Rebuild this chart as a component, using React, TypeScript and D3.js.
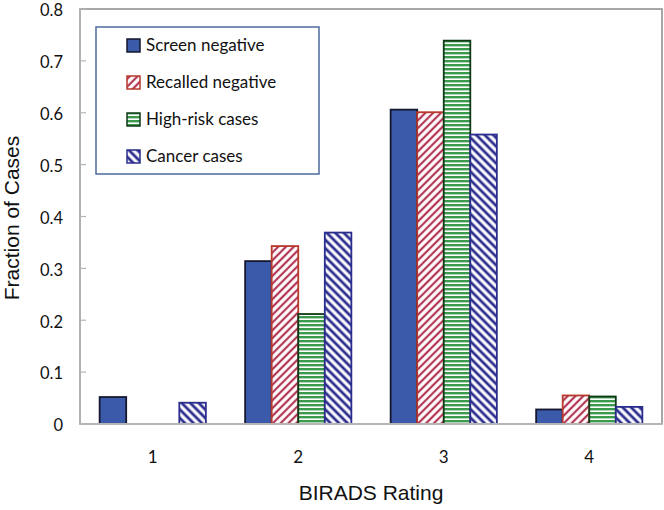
import * as d3 from "d3";

const categories = ["1", "2", "3", "4"];
const seriesNames = ["Screen negative", "Recalled negative", "High-risk cases", "Cancer cases"];
const screenNegative = [0.052, 0.314, 0.606, 0.028];
const recalledNegative = [0, 0.343, 0.601, 0.055];
const highRisk = [0, 0.212, 0.739, 0.053];
const cancerCases = [0.041, 0.369, 0.558, 0.033];
const yTicks = [0, 0.1, 0.2, 0.3, 0.4, 0.5, 0.6, 0.7, 0.8];

const seriesValues = [screenNegative, recalledNegative, highRisk, cancerCases];
const fills = ["#3b5aa9", "url(#hatchRed)", "url(#hatchGreen)", "url(#hatchBlue)"];
const strokes = ["#15172e", "#b8392b", "#0f3a17", "#2a2d8c"];

export default function App() {
    const width = 664;
    const height = 510;
    const marginLeft = 80;
    const marginRight = 2;
    const marginTop = 9;
    const plotBottom = 424;

    const x0 = d3.scaleBand(categories, [marginLeft, width - marginRight]);
    const bw = x0.bandwidth();
    const x1 = d3.scaleBand(seriesNames, [bw * 0.135, bw * 0.865]);
    const y = d3.scaleLinear([0, 0.8], [plotBottom, marginTop]);

    const font = "Lato, 'Open Sans', sans-serif";

    return (
        <svg width={width} height={height} style={{ position: "absolute", left: 0, top: 0, background: "#fff" }}>
            <defs>
                <pattern id="hatchRed" patternUnits="userSpaceOnUse" width="5.5" height="5.5" patternTransform="rotate(45)">
                    <rect width="5.5" height="5.5" fill="#fff" />
                    <line x1="2.75" y1="0" x2="2.75" y2="5.5" stroke="#b23452" strokeWidth="2.2" />
                </pattern>
                <pattern id="hatchGreen" patternUnits="userSpaceOnUse" width="4" height="4">
                    <rect width="4" height="4" fill="#fff" />
                    <line x1="0" y1="1.2" x2="4" y2="1.2" stroke="#3c9a4e" strokeWidth="2.4" />
                </pattern>
                <pattern id="hatchBlue" patternUnits="userSpaceOnUse" width="6" height="6" patternTransform="rotate(-45)">
                    <rect width="6" height="6" fill="#fff" />
                    <line x1="3" y1="0" x2="3" y2="6" stroke="#2c2e8e" strokeWidth="2.8" />
                </pattern>
            </defs>

            {/* plot frame */}
            <rect x={marginLeft} y={marginTop} width={width - marginRight - marginLeft} height={plotBottom - marginTop}
                fill="none" stroke="#8a8a8a" strokeWidth="1.5" />
            <line x1={marginLeft} x2={marginLeft} y1={marginTop} y2={plotBottom} stroke="#b5b5b5" strokeWidth="1.5" />

            {/* y ticks */}
            {yTicks.map((t) => (
                <g key={t}>
                    <line x1={marginLeft} x2={marginLeft + 6} y1={y(t)} y2={y(t)} stroke="#b5b5b5" strokeWidth="1.2" />
                    <text x={63} y={y(t) + 1.5} dy="0.35em" textAnchor="end" fontFamily={font} fontSize="16.5" fill="#111">
                        {t === 0 ? "0" : t.toFixed(1)}
                    </text>
                </g>
            ))}

            {/* bars */}
            {categories.map((c, i) => (
                <g key={c} transform={`translate(${x0(c)},0)`}>
                    {seriesNames.map((s, j) => {
                        const v = seriesValues[j][i];
                        if (v <= 0) return null;
                        return (
                            <rect key={s} x={x1(s)} y={y(v)} width={x1.bandwidth()} height={plotBottom - y(v)}
                                fill={fills[j]} stroke={strokes[j]} strokeWidth="1.8" />
                        );
                    })}
                </g>
            ))}

            <line x1={marginLeft} x2={width - marginRight} y1={plotBottom} y2={plotBottom} stroke="#b5b5b5" strokeWidth="1.8" />

            {/* x labels */}
            {categories.map((c) => (
                <text key={c} x={x0(c)! + bw / 2} y={457} dy="0.35em" textAnchor="middle" fontFamily={font} fontSize="17" fill="#111">
                    {c}
                </text>
            ))}

            <text x={(marginLeft + width - marginRight) / 2} y={493} dy="0.35em" textAnchor="middle"
                fontFamily="'Liberation Sans', Arial, sans-serif" fontSize="21" fill="#111">BIRADS Rating</text>
            <text transform={`translate(19,218) rotate(-90)`} textAnchor="middle"
                fontFamily="'Liberation Sans', Arial, sans-serif" fontSize="21" fill="#111">Fraction of Cases</text>

            {/* legend */}
            <rect x={96} y={27} width={223} height={147} fill="#fff" stroke="#4d6a9c" strokeWidth="1.5" />
            {seriesNames.map((s, j) => {
                const cy = 45.5 + j * 37;
                return (
                    <g key={s}>
                        <rect x={127} y={cy - 6.5} width={13} height={13} fill={fills[j]} stroke={strokes[j]} strokeWidth="1.5" />
                        <text x={146} y={cy} dy="0.35em" fontFamily={font} fontSize="17" fill="#111">{s}</text>
                    </g>
                );
            })}
        </svg>
    );
}
